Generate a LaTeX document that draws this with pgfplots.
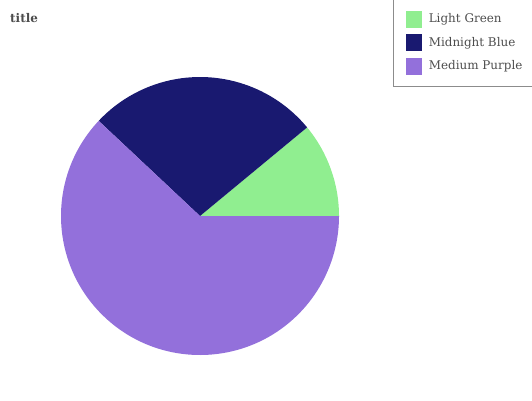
\documentclass[border=0pt]{standalone}
\usepackage{pgfplots}
\pgfplotsset{compat=1.18}
\usepackage{fontspec}
\setmainfont{DejaVu Serif}
\definecolor{lightgreen}{HTML}{90EE90}
\definecolor{midnightblue}{HTML}{191970}
\definecolor{mediumpurple}{HTML}{9370DB}
\definecolor{txt}{HTML}{4D4D4D}
\begin{document}
\begin{tikzpicture}[x=1bp,y=1bp]
\useasboundingbox (0,0) rectangle (532,400);
\begin{axis}[at={(0,0)},anchor=origin,scale only axis,width=532bp,height=400bp,
  xmin=0,xmax=532,ymin=0,ymax=400,hide axis,clip=false]
% values (percent)
\def\cx{200}\def\cy{184}\def\r{139}
\pgfmathsetmacro{\aA}{0}
\pgfmathsetmacro{\aB}{11*3.6}
\pgfmathsetmacro{\aC}{(11+27)*3.6}
\pgfmathsetmacro{\aD}{(11+27+62)*3.6}
\fill[lightgreen] (axis cs:\cx,\cy) -- (axis cs:{\cx+\r*cos(\aA)},{\cy+\r*sin(\aA)}) arc[start angle=\aA,end angle=\aB,radius=139bp] -- cycle;
\fill[midnightblue] (axis cs:\cx,\cy) -- (axis cs:{\cx+\r*cos(\aB)},{\cy+\r*sin(\aB)}) arc[start angle=\aB,end angle=\aC,radius=139bp] -- cycle;
\fill[mediumpurple] (axis cs:\cx,\cy) -- (axis cs:{\cx+\r*cos(\aC)},{\cy+\r*sin(\aC)}) arc[start angle=\aC,end angle=\aD,radius=139bp] -- cycle;
\end{axis}
\node[anchor=west,text=txt,font=\bfseries\fontsize{12}{14}\selectfont,inner sep=0] at (10,382.4) {title};
\draw[gray!90,line width=0.7bp] (393.6,402) -- (393.6,313.5) -- (540,313.5);
\fill[lightgreen] (405.5,372) rectangle (421.8,389);
\fill[midnightblue] (405.5,348.6) rectangle (421.8,365.6);
\fill[mediumpurple] (405.5,325.2) rectangle (421.8,342.2);
\begin{scope}[every node/.style={anchor=west,text=txt,font=\fontsize{12}{14}\selectfont,inner sep=0}]
\node at (428.6,380.3) {Light Green};
\node at (428.6,357) {Midnight Blue};
\node at (428.6,333.5) {Medium Purple};
\end{scope}
\end{tikzpicture}
\end{document}
